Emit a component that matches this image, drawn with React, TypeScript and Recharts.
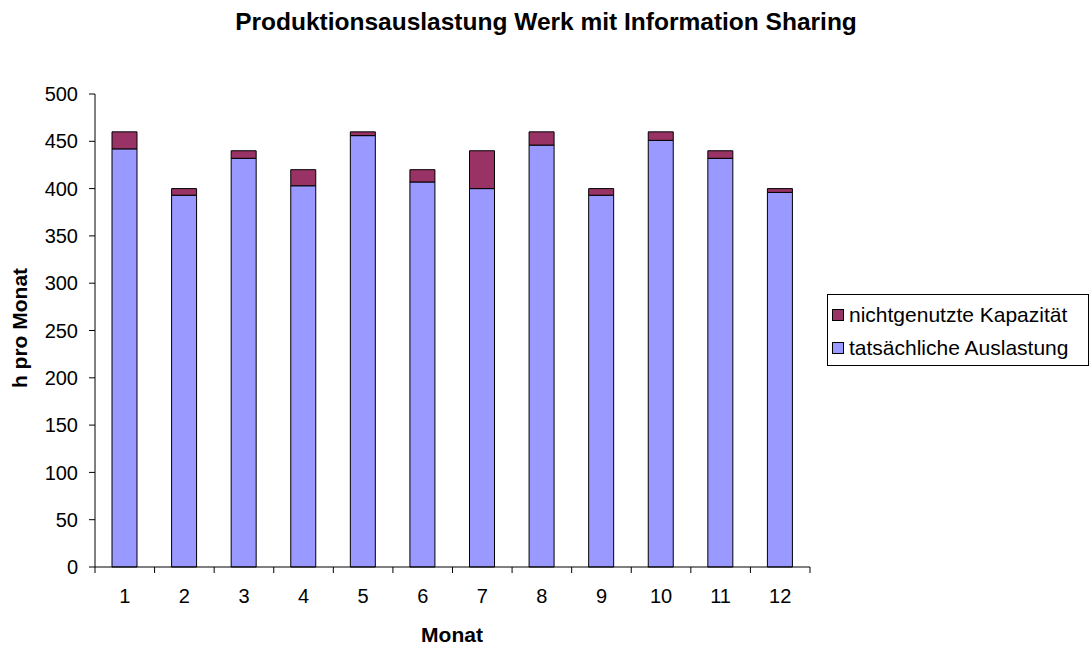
import React from 'react';
import { BarChart, Bar, XAxis, YAxis } from 'recharts';

const months = ['1', '2', '3', '4', '5', '6', '7', '8', '9', '10', '11', '12'];
const actualUsage = [442, 393, 432, 403, 456, 407, 400, 446, 393, 451, 432, 396];
const unusedCapacity = [18, 7, 8, 17, 4, 13, 40, 14, 7, 9, 8, 4];
const yTicks = [0, 50, 100, 150, 200, 250, 300, 350, 400, 450, 500];

const SERIES_UNUSED = 'nichtgenutzte Kapazität';
const SERIES_ACTUAL = 'tatsächliche Auslastung';
const COLOR_UNUSED = '#993366';
const COLOR_ACTUAL = '#9999FF';

const data = months.map((m, i) => ({
  month: m,
  actual: actualUsage[i],
  unused: unusedCapacity[i],
}));

const W = 1092;
const H = 648;
const PLOT_LEFT = 95;
const PLOT_RIGHT = 810;
const PLOT_TOP = 94;
const PLOT_BOTTOM = 567;
const FONT = 'Arial, "Liberation Sans", sans-serif';

const BAND = (PLOT_RIGHT - PLOT_LEFT) / months.length;

const XTick = (props: any) => {
  const { x, payload, index } = props;
  const left = x - BAND / 2;
  const right = x + BAND / 2;
  return (
    <g>
      <line x1={left} y1={PLOT_BOTTOM} x2={left} y2={PLOT_BOTTOM + 6} stroke="#000" />
      {index === months.length - 1 && (
        <line x1={right} y1={PLOT_BOTTOM} x2={right} y2={PLOT_BOTTOM + 6} stroke="#000" />
      )}
      <text x={x} y={PLOT_BOTTOM + 36} textAnchor="middle" fontSize={20} fontFamily={FONT} fill="#000">
        {payload.value}
      </text>
    </g>
  );
};

const LegendBox = () => (
  <div
    style={{
      position: 'absolute',
      left: 827,
      top: 294,
      width: 262,
      height: 72,
      border: '1px solid #000',
      background: '#fff',
      fontFamily: FONT,
      fontSize: 21,
      boxSizing: 'border-box',
    }}
  >
    {[
      { name: SERIES_UNUSED, color: COLOR_UNUSED, top: 8 },
      { name: SERIES_ACTUAL, color: COLOR_ACTUAL, top: 41 },
    ].map((it) => (
      <div
        key={it.name}
        style={{ position: 'absolute', left: 4, top: it.top, height: 24, display: 'flex', alignItems: 'center', whiteSpace: 'nowrap' }}
      >
        <span
          style={{ display: 'inline-block', width: 10, height: 10, background: it.color, border: '1px solid #000', marginRight: 5 }}
        />
        <span style={{ lineHeight: '24px' }}>{it.name}</span>
      </div>
    ))}
  </div>
);

export default function App() {
  return (
    <div style={{ position: 'absolute', left: 0, top: 0, width: W, height: H, background: '#fff' }}>
      <BarChart
        width={W}
        height={H}
        data={data}
        margin={{ top: PLOT_TOP, right: W - PLOT_RIGHT, bottom: H - PLOT_BOTTOM - 30, left: PLOT_LEFT - 60 }}
        barSize={25}
      >
        <text x={546} y={30} textAnchor="middle" fontSize={24.5} fontWeight="bold" fontFamily={FONT} fill="#000">
          Produktionsauslastung Werk mit Information Sharing
        </text>
        <text
          x={27}
          y={328}
          textAnchor="middle"
          fontSize={21}
          fontWeight="bold"
          fontFamily={FONT}
          fill="#000"
          transform="rotate(-90 27 328)"
        >
          h pro Monat
        </text>
        <text x={452} y={642} textAnchor="middle" fontSize={21} fontWeight="bold" fontFamily={FONT} fill="#000">
          Monat
        </text>
        <XAxis
          dataKey="month"
          height={30}
          axisLine={{ stroke: '#000' }}
          tickLine={false}
          tick={<XTick />}
          interval={0}
        />
        <YAxis
          width={60}
          domain={[0, 500]}
          ticks={yTicks}
          interval={0}
          axisLine={{ stroke: '#000' }}
          tickLine={{ stroke: '#000' }}
          tickSize={6}
          tickMargin={11}
          tick={{ fontSize: 20, fontFamily: FONT, fill: '#000' }}
        />
        <Bar dataKey="actual" name={SERIES_ACTUAL} stackId="a" fill={COLOR_ACTUAL} stroke="#000" strokeWidth={1} isAnimationActive={false} />
        <Bar dataKey="unused" name={SERIES_UNUSED} stackId="a" fill={COLOR_UNUSED} stroke="#000" strokeWidth={1} isAnimationActive={false} />
      </BarChart>
      <LegendBox />
    </div>
  );
}
